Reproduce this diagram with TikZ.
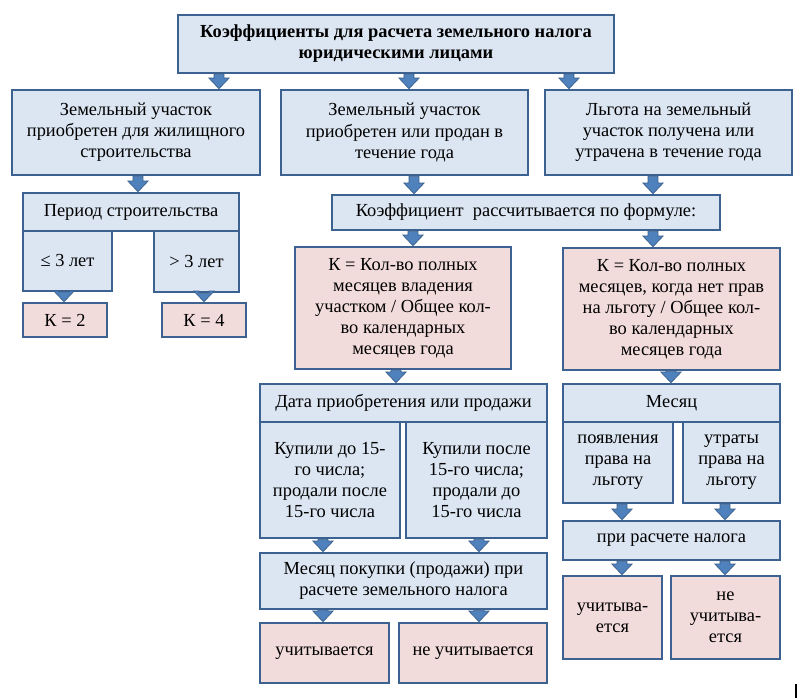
\documentclass[tikz,border=0pt]{standalone}
\usepackage{fontspec}
\setmainfont{Liberation Serif}
\usetikzlibrary{calc}
\definecolor{bfill}{HTML}{DCE6F2}
\definecolor{pfill}{HTML}{F2DCDB}
\definecolor{bline}{HTML}{3B6290}
\definecolor{afill}{HTML}{4F81BD}
\definecolor{aline}{HTML}{385D8A}
\tikzset{
 base/.style={draw=bline, line width=1.9pt, inner sep=0pt, align=center, font=\fontsize{13.8}{15.8}\selectfont},
 bbox/.style={base, fill=bfill},
 pbox/.style={base, fill=pfill},
 barrow/.style={draw=aline, fill=afill, line width=0.5pt, line join=miter,
   to path={let \p1=(\tikztostart), \p2=(\tikztotarget) in
     (\x1-3.7pt,\y1) -- (\x1+3.7pt,\y1) -- (\x1+3.7pt,\y2+8pt) -- (\x1+7.6pt,\y2+8pt)
     -- (\x1,\y2) -- (\x1-7.6pt,\y2+8pt) -- (\x1-3.7pt,\y2+8pt) -- cycle}}
}
\newcommand\bx[7]{\node[#6, minimum width={(#4-#2)*0.75pt}, minimum height={(#5-#3)*0.75pt}]
  (#1) at ({(#2+#4)/2},{(#3+#5)/2}) {#7};}
\begin{document}
\begin{tikzpicture}[x=0.75pt, y=-0.75pt]
\fill[white] (0,0) rectangle (800,698);
\useasboundingbox (0,0) rectangle (800,698);
% boxes
\bx{top}{178}{15}{614}{73}{bbox}{\textbf{Коэффициенты для расчета земельного налога}\\\textbf{юридическими лицами}}
\bx{b1}{12}{90}{260}{175}{bbox}{Земельный участок\\приобретен для жилищного\\строительства}
\bx{b2}{281}{90}{528}{175}{bbox}{Земельный участок\\приобретен или продан в\\течение года}
\bx{b3}{545}{90}{792}{175}{bbox}{Льгота на земельный\\участок получена или\\утрачена в течение года}
\bx{per}{23}{193}{239}{231}{bbox}{Период строительства}
\bx{le}{23}{231}{112}{291}{bbox}{≤ 3 лет}
\bx{gt}{154}{231}{239}{292}{bbox}{> 3 лет}
\bx{k2}{23}{303}{107}{337}{pbox}{К = 2}
\bx{k4}{162}{303}{246}{337}{pbox}{К = 4}
\bx{frm}{332}{195}{720}{230}{bbox}{Коэффициент\ \ рассчитывается по формуле:}
\bx{p1}{295}{247}{511}{369}{pbox}{К = Кол-во полных\\месяцев владения\\участком / Общее кол-\\во календарных\\месяцев года}
\bx{p2}{563}{248}{780}{370}{pbox}{К = Кол-во полных\\месяцев, когда нет прав\\на льготу / Общее кол-\\во календарных\\месяцев года}
\bx{dat}{260}{384}{547}{422}{bbox}{Дата приобретения или продажи}
\bx{kl}{260}{422}{400}{538}{bbox}{Купили до 15-\\го числа;\\продали после\\15-го числа}
\bx{kr}{406}{422}{547}{538}{bbox}{Купили после\\15-го числа;\\продали до\\15-го числа}
\bx{mp}{260}{553}{547}{609}{bbox}{Месяц покупки (продажи) при\\расчете земельного налога}
\bx{u1}{260}{623}{389}{683}{pbox}{учитывается}
\bx{n1}{399}{623}{547}{683}{pbox}{не учитывается}
\bx{mes}{563}{384}{780}{422}{bbox}{Месяц}
\bx{pj}{563}{422}{673}{503}{bbox}{появления\\права на\\льготу}
\bx{ut}{683}{422}{780}{503}{bbox}{утраты\\права на\\льготу}
\bx{pr}{563}{521}{780}{560}{bbox}{при расчете налога}
\bx{u2}{563}{576}{662}{659}{pbox}{учитыва-\\ется}
\bx{n2}{671}{576}{780}{659}{pbox}{не\\учитыва-\\ется}
% arrow columns
\foreach \n/\v in {a/219,b/409,c/569,d/138,e/64,f/204,g/414,h/653,i/413,j/396,k/671,l/323,m/479,n/622,o/725}
  {\coordinate (c\n) at (\v,0);}
\path[barrow] (top.south -| ca) to (b1.north -| ca);
\path[barrow] (top.south -| cb) to (b2.north -| cb);
\path[barrow] (top.south -| cc) to (b3.north -| cc);
\path[barrow] (b1.south -| cd) to (per.north -| cd);
\path[barrow] (le.south -| ce) to (k2.north -| ce);
\path[barrow] (gt.south -| cf) to (k4.north -| cf);
\path[barrow] (b2.south -| cg) to (frm.north -| cg);
\path[barrow] (b3.south -| ch) to (frm.north -| ch);
\path[barrow] (frm.south -| ci) to (p1.north -| ci);
\path[barrow] (frm.south -| ch) to (p2.north -| ch);
\path[barrow] (p1.south -| cj) to (dat.north -| cj);
\path[barrow] (p2.south -| ck) to (mes.north -| ck);
\path[barrow] (kl.south -| cl) to (mp.north -| cl);
\path[barrow] (kr.south -| cm) to (mp.north -| cm);
\path[barrow] (mp.south -| cl) to (u1.north -| cl);
\path[barrow] (mp.south -| cm) to (n1.north -| cm);
\path[barrow] (pj.south -| cn) to (pr.north -| cn);
\path[barrow] (ut.south -| co) to (pr.north -| co);
\path[barrow] (pr.south -| cn) to (u2.north -| cn);
\path[barrow] (pr.south -| co) to (n2.north -| co);
% stray mark
\coordinate (m1) at (796,684);
\coordinate (m2) at (796,698);
\draw[black, line width=1.1pt] (m1) -- (m2);
\end{tikzpicture}
\end{document}
